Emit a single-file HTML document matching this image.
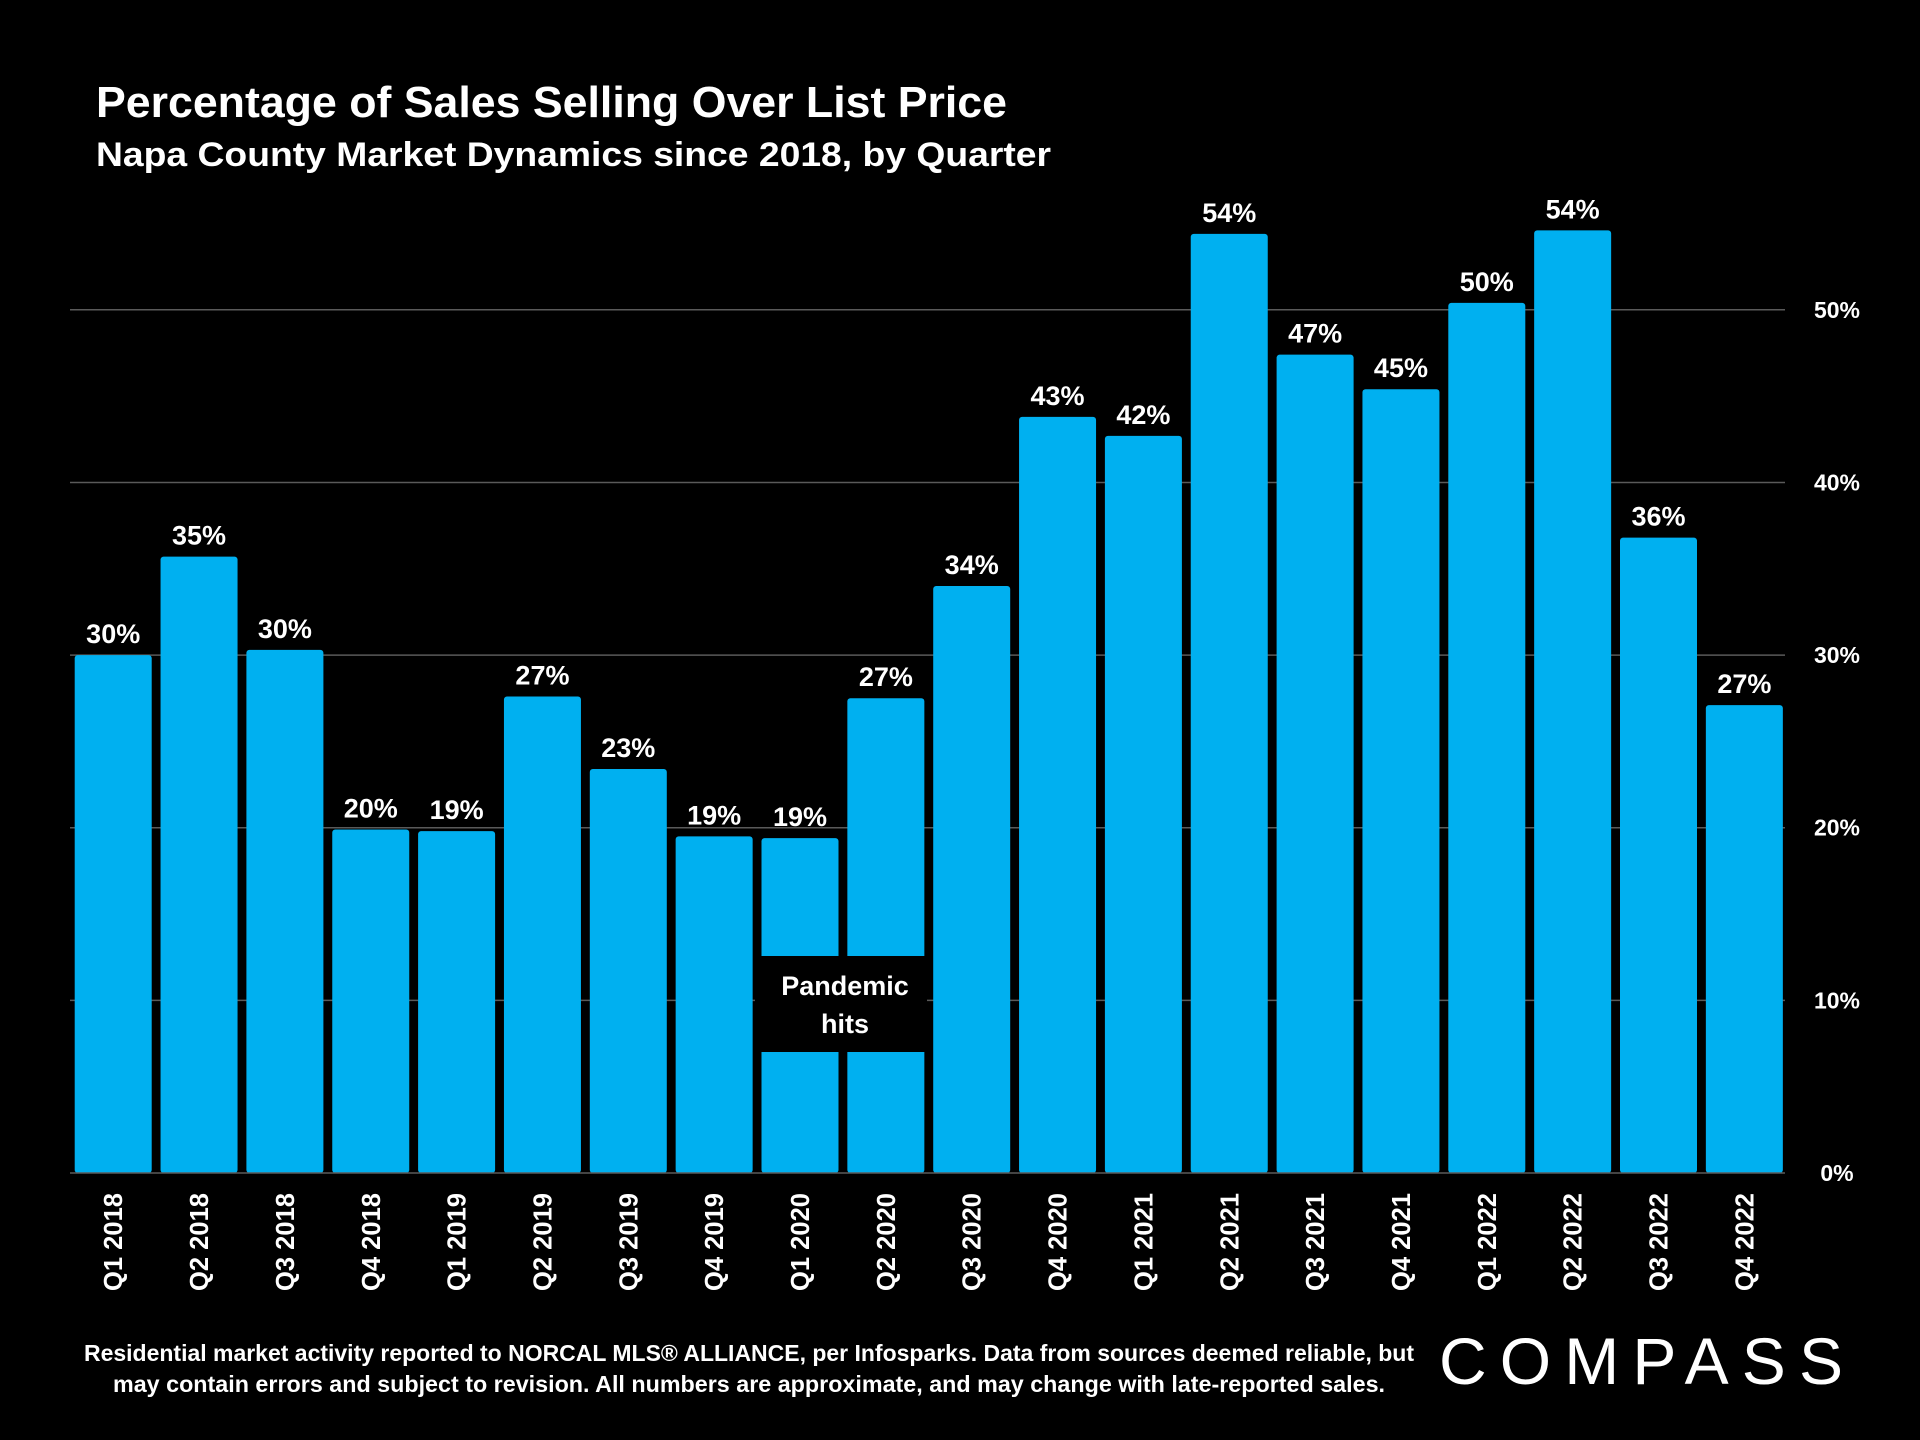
<!DOCTYPE html>
<html><head><meta charset="utf-8"><style>
html,body{margin:0;padding:0;background:#000;}
svg{display:block;font-family:"Liberation Sans",sans-serif;}
</style></head><body>
<svg id="chart" width="1920" height="1440" viewBox="0 0 1920 1440" xmlns="http://www.w3.org/2000/svg">
<rect width="1920" height="1440" fill="#000"/>
<text x="96" y="117" fill="#fff" font-size="44" font-weight="bold" textLength="911" lengthAdjust="spacingAndGlyphs">Percentage of Sales Selling Over List Price</text>
<text x="96" y="166" fill="#fff" font-size="34" font-weight="bold" textLength="955" lengthAdjust="spacingAndGlyphs">Napa County Market Dynamics since 2018, by Quarter</text>
<g id="grid"></g>
<g id="bars"></g>
<g id="labels"></g>
<g id="xaxis"></g>
<g id="yaxis"></g>
<g>
<rect x="755" y="956" width="172" height="96" fill="#000"/>
<text x="845" y="995" fill="#fff" font-size="27" font-weight="bold" text-anchor="middle">Pandemic</text>
<text x="845" y="1033" fill="#fff" font-size="27" font-weight="bold" text-anchor="middle">hits</text>
</g>
<text x="749" y="1361" fill="#fff" font-size="23" font-weight="bold" text-anchor="middle" textLength="1330" lengthAdjust="spacingAndGlyphs">Residential market activity reported to NORCAL MLS® ALLIANCE, per Infosparks. Data from sources deemed reliable, but</text>
<text x="749" y="1392" fill="#fff" font-size="23" font-weight="bold" text-anchor="middle" textLength="1272" lengthAdjust="spacingAndGlyphs">may contain errors and subject to revision. All numbers are approximate, and may change with late-reported sales.</text>
<text x="1439" y="1384" fill="#fff" font-size="66" textLength="404" lengthAdjust="spacing">COMPASS</text>
</svg>
<script>
const categories = ["Q1 2018","Q2 2018","Q3 2018","Q4 2018","Q1 2019","Q2 2019","Q3 2019","Q4 2019","Q1 2020","Q2 2020","Q3 2020","Q4 2020","Q1 2021","Q2 2021","Q3 2021","Q4 2021","Q1 2022","Q2 2022","Q3 2022","Q4 2022"];
const values = [30.0,35.7,30.3,19.9,19.8,27.6,23.4,19.5,19.4,27.5,34.0,43.8,42.7,54.4,47.4,45.4,50.4,54.6,36.8,27.1];
const valueLabels = ["30%","35%","30%","20%","19%","27%","23%","19%","19%","27%","34%","43%","42%","54%","47%","45%","50%","54%","36%","27%"];
const yTicks = [0,10,20,30,40,50];
const yTickLabels = ["0%","10%","20%","30%","40%","50%"];

const NS="http://www.w3.org/2000/svg";
const baseY=1173, pxPer=(1173-309.8)/50;
const x0=74.7, pitch=85.85, bw=77;
function yScale(v){return baseY - v*pxPer;}
function xScale(i){return x0 + i*pitch;}
function mk(tag,attrs,parent){const e=document.createElementNS(NS,tag);for(const k in attrs)e.setAttribute(k,attrs[k]);parent.appendChild(e);return e;}

const grid=document.getElementById('grid'), yaxis=document.getElementById('yaxis');
yTicks.forEach((t,i)=>{
  if(t>0){const l=mk('line',{x1:70,x2:1785,y1:yScale(t),y2:yScale(t),stroke:'#5a5a5a','stroke-width':1.5},grid);
  
  }
  const tx=mk('text',{x:1837,y:yScale(t)+8,fill:'#fff','font-size':23,'font-weight':'bold','text-anchor':'middle'},yaxis);
  tx.textContent=yTickLabels[i];
  
  
});
const bars=document.getElementById('bars'), labels=document.getElementById('labels'), xaxis=document.getElementById('xaxis');
categories.forEach((c,i)=>{
  const x=xScale(i), y=yScale(values[i]);
  const r=mk('rect',{x:x,y:y,width:bw,height:baseY-y,fill:'#00B0F0',rx:3},bars);
  
  
  const t=mk('text',{x:x+bw/2,y:y-12,fill:'#fff','font-size':27,'font-weight':'bold','text-anchor':'middle'},labels);
  t.textContent=valueLabels[i];
  
  
  const cx=x+bw/2+9;
  const xl=mk('text',{x:cx,y:1193,fill:'#fff','font-size':26,'font-weight':'bold','text-anchor':'end',textLength:98,lengthAdjust:'spacingAndGlyphs',transform:`rotate(-90 ${cx} 1193)`},xaxis);
  xl.textContent=c;
  
  
});
const ax=mk('line',{x1:70,x2:1785,y1:baseY,y2:baseY,stroke:'#5a5a5a','stroke-width':1.5},xaxis);


</script>
</body></html>
